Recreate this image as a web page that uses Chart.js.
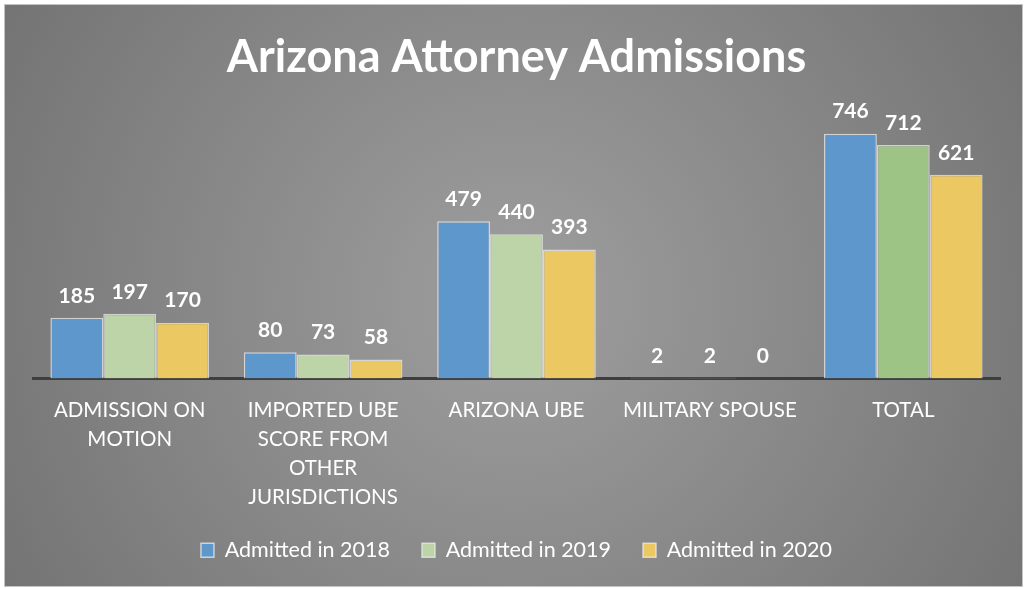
<!DOCTYPE html>
<html>
<head>
<meta charset="utf-8">
<script src="https://cdn.jsdelivr.net/npm/chart.js@4.4.1/dist/chart.umd.min.js"></script>
<style>
  html, body { margin: 0; padding: 0; background: #fff; }
  #wrap { width: 1028px; height: 589px; position: relative; }
</style>
</head>
<body>
<div id="wrap"><canvas id="myChart" width="1028" height="589"></canvas></div>
<script>
// categories and series
const categories = [
  ['ADMISSION ON', 'MOTION'],
  ['IMPORTED UBE', 'SCORE FROM', 'OTHER', 'JURISDICTIONS'],
  'ARIZONA UBE',
  'MILITARY SPOUSE',
  'TOTAL'
];
const admitted2018 = [185, 80, 479, 2, 746];
const admitted2019 = [197, 73, 440, 2, 712];
const admitted2020 = [170, 58, 393, 0, 621];
const seriesNames = ['Admitted in 2018', 'Admitted in 2019', 'Admitted in 2020'];

const blue = '#5d97cc';
const lightGreen = '#bcd4a7';
const darkGreen = '#9dc385';
const yellow = '#ebc862';
const fontFamily = 'Lato, "Open Sans", sans-serif';

// gray panel with a radial shade behind everything
const panelBg = {
  id: 'panelBg',
  beforeDraw(chart) {
    const ctx = chart.ctx;
    ctx.save();
    ctx.fillStyle = '#ffffff';
    ctx.fillRect(0, 0, chart.width, chart.height);
    const g = ctx.createRadialGradient(515, 300, 20, 515, 300, 600);
    g.addColorStop(0, '#9d9d9d');
    g.addColorStop(1, '#737373');
    ctx.fillStyle = g;
    ctx.fillRect(5, 5, 1017, 581);
    ctx.strokeStyle = '#c4c4c4';
    ctx.lineWidth = 1;
    ctx.strokeRect(4.5, 4.5, 1018, 582);
    ctx.restore();
  }
};

// value labels above each bar
const valueLabels = {
  id: 'valueLabels',
  afterDatasetsDraw(chart) {
    const ctx = chart.ctx;
    ctx.save();
    ctx.fillStyle = '#ffffff';
    ctx.font = 'bold 21px ' + fontFamily;
    ctx.textAlign = 'center';
    ctx.textBaseline = 'middle';
    chart.data.datasets.forEach((ds, i) => {
      const meta = chart.getDatasetMeta(i);
      meta.data.forEach((bar, j) => {
        ctx.fillText(String(ds.data[j]), bar.x, bar.y - 22);
      });
    });
    ctx.restore();
  }
};

new Chart(document.getElementById('myChart'), {
  type: 'bar',
  data: {
    labels: categories,
    datasets: [
      { label: seriesNames[0], data: admitted2018, backgroundColor: blue },
      { label: seriesNames[1], data: admitted2019,
        backgroundColor: [lightGreen, lightGreen, lightGreen, lightGreen, darkGreen] },
      { label: seriesNames[2], data: admitted2020, backgroundColor: yellow }
    ]
  },
  options: {
    responsive: false,
    animation: false,
    devicePixelRatio: 1,
    layout: { padding: { left: 33, right: 28, top: 10, bottom: 18 } },
    datasets: {
      bar: {
        categoryPercentage: 0.82,
        barPercentage: 1,
        borderColor: 'rgba(235,235,235,0.75)',
        borderWidth: 1.5
      }
    },
    scales: {
      x: {
        grid: { display: false },
        border: { display: true, color: '#3e3e3e', width: 3 },
        ticks: {
          color: '#ffffff',
          maxRotation: 0,
          autoSkip: false,
          padding: 9,
          font: { family: fontFamily, size: 20.5, lineHeight: 1.415 }
        },
        afterFit(scale) { scale.height = 129; }
      },
      y: {
        display: false,
        min: 0,
        max: 800
      }
    },
    plugins: {
      title: {
        display: true,
        text: 'Arizona Attorney Admissions',
        color: '#ffffff',
        font: { family: fontFamily, size: 45, weight: 'bold' },
        padding: { top: 20, bottom: 32 }
      },
      legend: {
        position: 'bottom',
        labels: {
          color: '#ffffff',
          font: { family: fontFamily, size: 21.5 },
          boxWidth: 13,
          boxHeight: 14,
          padding: 32,
          generateLabels(chart) {
            return seriesNames.map((name, i) => ({
              text: name,
              fillStyle: [blue, lightGreen, yellow][i],
              strokeStyle: 'rgba(235,235,235,0.75)',
              lineWidth: 1.5,
              fontColor: '#ffffff',
              hidden: false,
              datasetIndex: i
            }));
          }
        }
      },
      tooltip: { enabled: false }
    }
  },
  plugins: [panelBg, valueLabels]
});
</script>
</body>
</html>
